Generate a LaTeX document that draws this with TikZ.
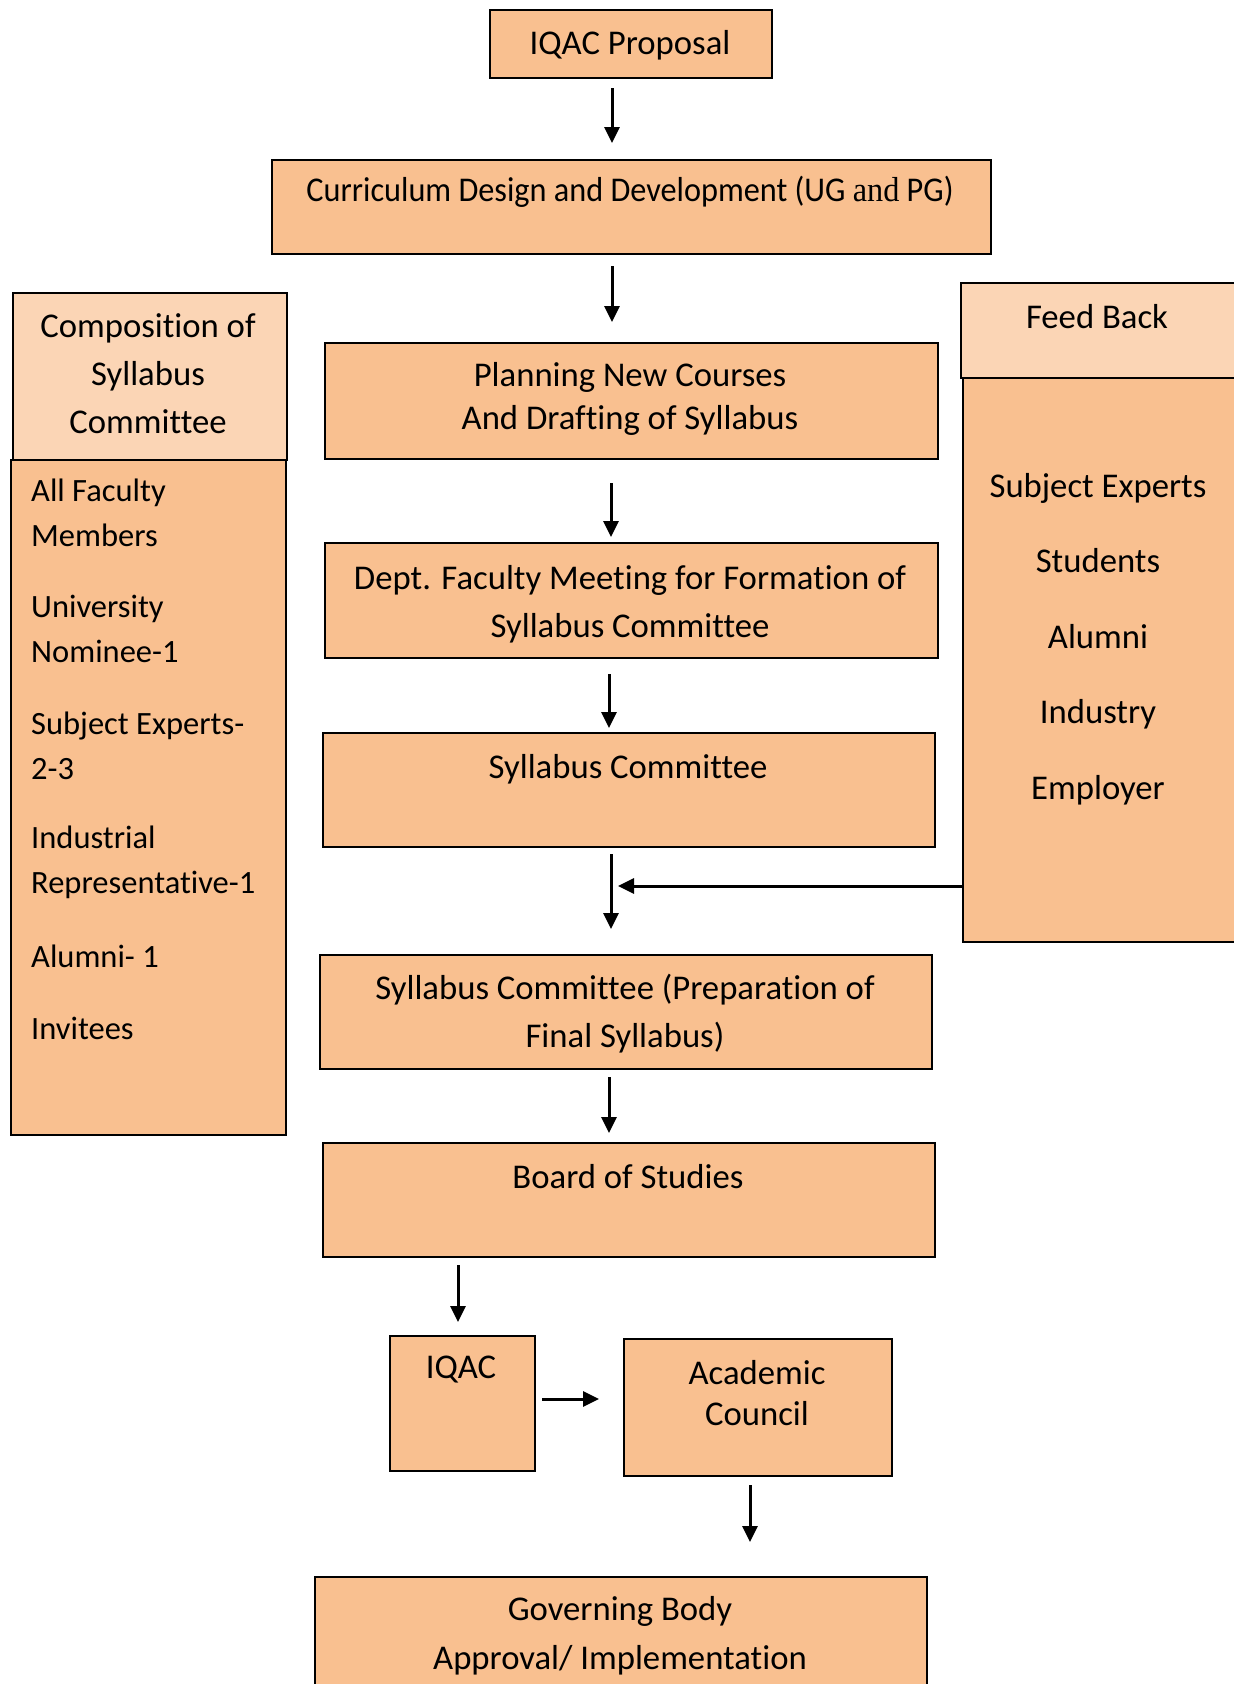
\documentclass[tikz,border=0pt]{standalone}
\usepackage{fontspec}
\setmainfont{Carlito}[Ligatures=NoCommon]
\newfontfamily\serifan{Liberation Serif}
\usetikzlibrary{arrows.meta}
\definecolor{bodyc}{HTML}{F9C090}
\definecolor{headc}{HTML}{FBD5B5}
\tikzset{
  box/.style={draw=black, line width=2pt, fill=bodyc, inner sep=0pt, anchor=north west},
  hbox/.style={box, fill=headc},
  txt/.style={inner sep=0pt, align=center, font=\fontsize{34.7}{48}\selectfont},
  ltxt/.style={inner sep=0pt, align=left, anchor=west, font=\fontsize{32.5}{45}\selectfont},
  arr/.style={line width=3pt, -{Triangle[length=16pt,width=15pt]}}
}
\begin{document}
\begin{tikzpicture}[x=1pt,y=-1pt]
\useasboundingbox (0,0) rectangle (1234,1684);
% boxes
\node[box, minimum width=282, minimum height=68] (prop) at (489,9) {};
\node[box, minimum width=719, minimum height=94] (curr) at (271,159) {};
\node[hbox, minimum width=274, minimum height=167] (comph) at (12,292) {};
\node[box, minimum width=275, minimum height=675] (compb) at (10,459) {};
\node[box, minimum width=613, minimum height=116] (plan) at (324,342) {};
\node[hbox, minimum width=280, minimum height=95] (feedh) at (960,282) {};
\node[box, minimum width=280, minimum height=564] (feedb) at (962,377) {};
\node[box, minimum width=613, minimum height=115] (dept) at (324,542) {};
\node[box, minimum width=612, minimum height=114] (sc) at (322,732) {};
\node[box, minimum width=612, minimum height=114] (fin) at (319,954) {};
\node[box, minimum width=612, minimum height=114] (bos) at (322,1142) {};
\node[box, minimum width=145, minimum height=135] (iqac) at (389,1335) {};
\node[box, minimum width=268, minimum height=137] (ac) at (623,1338) {};
\node[box, minimum width=612, minimum height=140] (gb) at (314,1576) {};
% texts
\node[txt] (tprop) at (630,45) {IQAC Proposal};
\node[txt] (tcurr) at (630,192) {\scalebox{0.93}[1]{Curriculum Design and Development (UG {\serifan and} PG)}};
\node[txt] (tcomph) at (148,374) {Composition of\\Syllabus\\Committee};
\node[ltxt] (c1) at (31,512.5) {All Faculty\\Members};
\node[ltxt] (c2) at (31,628.5) {University\\Nominee-1};
\node[ltxt] (c3) at (31,745.5) {Subject Experts-\\2-3};
\node[ltxt] (c4) at (31,862.5) {Industrial\\Representative-1};
\node[ltxt] (c5) at (31,956) {Alumni- 1};
\node[ltxt] (c6) at (31,1028) {Invitees};
\node[txt, font=\fontsize{34.7}{43}\selectfont] (tplan) at (630,398.5) {Planning New Courses\\And Drafting of Syllabus};
\node[txt] (tfeedh) at (1097,317) {Feed Back};
\node[txt, font=\fontsize{34.7}{75.5}\selectfont] (tfeedb) at (1098,639) {Subject Experts\\Students\\Alumni\\Industry\\Employer};
\node[txt] (tdept) at (630,604) {Dept. Faculty Meeting for Formation of\\Syllabus Committee};
\node[txt] (tsc) at (628,769) {Syllabus Committee};
\node[txt] (tfin) at (625,1014) {Syllabus Committee (Preparation of\\Final Syllabus)};
\node[txt] (tbos) at (628,1177) {Board of Studies};
\node[txt] (tiqac) at (461,1370) {IQAC};
\node[txt, font=\fontsize{34.7}{41}\selectfont] (tac) at (757,1393) {Academic\\Council};
\node[txt, font=\fontsize{34.7}{49}\selectfont] (tgb) at (620,1635.5) {Governing Body\\Approval/ Implementation};
% arrow end points
\coordinate (a1s) at (612,88);   \coordinate (a1e) at (612,143);
\coordinate (a2s) at (612,266);  \coordinate (a2e) at (612,322);
\coordinate (a3s) at (611,483);  \coordinate (a3e) at (611,537);
\coordinate (a4s) at (609,674);  \coordinate (a4e) at (609,728);
\coordinate (a5s) at (611,854);  \coordinate (a5e) at (611,929);
\coordinate (fbe) at (618,886);
\coordinate (a6s) at (609,1077); \coordinate (a6e) at (609,1133);
\coordinate (a7s) at (458,1265); \coordinate (a7e) at (458,1322);
\coordinate (a8s) at (542,1399); \coordinate (a8e) at (599,1399);
\coordinate (a9s) at (750,1485); \coordinate (a9e) at (750,1542);
\draw[arr] (a1s) -- (a1e);
\draw[arr] (a2s) -- (a2e);
\draw[arr] (a3s) -- (a3e);
\draw[arr] (a4s) -- (a4e);
\draw[arr] (a5s) -- (a5e);
\draw[arr] (feedb.west |- fbe) -- (fbe);
\draw[arr] (a6s) -- (a6e);
\draw[arr] (a7s) -- (a7e);
\draw[arr] (a8s) -- (a8e);
\draw[arr] (a9s) -- (a9e);
\end{tikzpicture}
\end{document}
